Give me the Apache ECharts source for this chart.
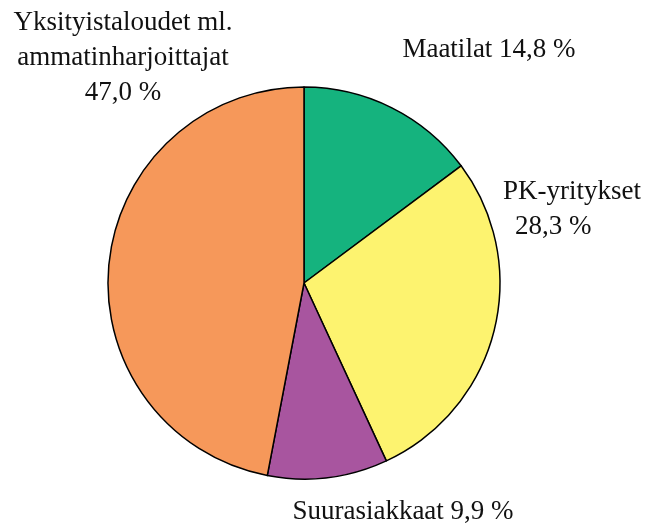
<!DOCTYPE html>
<html><head><meta charset="utf-8">
<script src="https://cdn.jsdelivr.net/npm/echarts@6/dist/echarts.min.js"></script>
<style>html,body{margin:0;padding:0;background:#fff}#c{width:653px;height:527px}</style>
</head><body><div id="c"></div>
<script>
const categories = ['Maatilat', 'PK-yritykset', 'Suurasiakkaat', 'Yksityistaloudet ml. ammatinharjoittajat'];
const values = [14.8, 28.3, 9.9, 47.0];
const valueLabels = ['14,8 %', '28,3 %', '9,9 %', '47,0 %'];
const colors = ['#15b37e', '#fdf36f', '#a8559f', '#f6985a'];

const labelTexts = [
  '{t|Maatilat ' + valueLabels[0] + '}',
  '{t|PK-yritykset}\n{i|' + valueLabels[1] + '}',
  '{t|Suurasiakkaat ' + valueLabels[2] + '}',
  '{t|Yksityistaloudet ml.}\n{t|ammatinharjoittajat}\n{t|' + valueLabels[3] + '}'
];
const labelPos = [
  {x: 489, y: 50, align: 'center'},
  {x: 503, y: 209, align: 'left'},
  {x: 403, y: 512, align: 'center'},
  {x: 123, y: 58, align: 'center'}
];

const chart = echarts.init(document.getElementById('c'), null, {renderer: 'canvas'});
chart.setOption({
  animation: false,
  series: [{
    type: 'pie',
    center: [304, 283],
    radius: 196,
    startAngle: 90,
    clockwise: true,
    data: categories.map((n, i) => ({
      name: n, value: values[i],
      itemStyle: {color: colors[i]},
      label: {formatter: labelTexts[i]}
    })),
    itemStyle: {borderColor: '#000', borderWidth: 1.5},
    label: {
      show: true,
      position: 'outside',
      overflow: 'none',
      color: '#111',
      fontFamily: 'Liberation Serif',
      fontSize: 27,
      lineHeight: 35,
      rich: {
        t: {fontFamily: 'Liberation Serif', fontSize: 27, lineHeight: 35, color: '#111'},
        i: {fontFamily: 'Liberation Serif', fontSize: 27, lineHeight: 35, color: '#111', padding: [0, 0, 0, 12]}
      }
    },
    labelLine: {show: false},
    labelLayout: function (p) {
      const lp = labelPos[p.dataIndex];
      return {x: lp.x, y: lp.y, align: lp.align, verticalAlign: 'middle'};
    },
    emphasis: {disabled: true}
  }]
});
</script></body></html>
